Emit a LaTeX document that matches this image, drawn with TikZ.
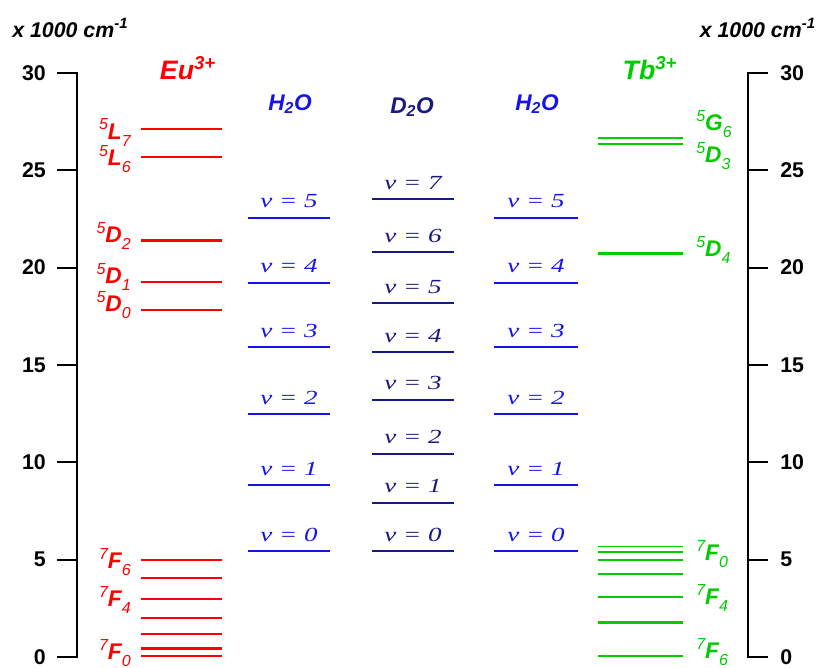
\documentclass[tikz,border=0pt]{standalone}
\usepackage{fontspec}
\setmainfont{Liberation Sans}
\setsansfont{Liberation Sans}
\newfontfamily\vibfont{Liberation Serif}
\usetikzlibrary{positioning}
\definecolor{eured}{RGB}{255,0,0}
\definecolor{tbgreen}{RGB}{0,204,0}
\definecolor{hblue}{RGB}{20,20,235}
\definecolor{dnavy}{RGB}{25,25,130}
\newcommand{\term}[3]{\raisebox{0.42em}{\fontsize{12}{12}\selectfont #1}\textbf{#2}\raisebox{-0.3em}{\fontsize{12}{12}\selectfont #3}}
\newcommand{\vlev}[1]{\scalebox{1.35}[1]{\vibfont\itshape ν = #1}}
\tikzset{
  axisline/.style={line width=1.6pt},
  tickline/.style={line width=1.5pt},
  axisnum/.style={font=\sffamily\fontsize{16}{16}\selectfont\bfseries, inner sep=0pt},
  unitlbl/.style={font=\sffamily\fontsize{16}{16}\selectfont\bfseries\itshape, inner sep=0pt},
  ionlbl/.style={font=\sffamily\fontsize{20}{20}\selectfont\bfseries\itshape},
  mollbl/.style={font=\sffamily\fontsize{17}{17}\selectfont\bfseries\itshape},
  termlbl/.style={font=\sffamily\fontsize{17}{17}\selectfont\itshape, inner sep=0pt},
  vlbl/.style={font=\fontsize{15}{15}\selectfont, anchor=base, inner sep=0pt}
}

\begin{document}
\begin{tikzpicture}[x=0.75pt, y=14.6pt, font=\sffamily]
\useasboundingbox (0,-0.565) rectangle (820,33.744);

% energy axes
\draw[axisline] (57,30) -- (77,30) -- (77,0) -- (57,0);
\draw[axisline] (768,30) -- (748,30) -- (748,0) -- (768,0);
\foreach \e in {5,10,...,25}{
  \draw[tickline] (57,\e) -- (77,\e);
  \draw[tickline] (748,\e) -- (768,\e);
}
\foreach \e in {0,5,...,30}{
  \node[axisnum, anchor=east] (lnum\e) at (46,\e) {\e};
  \node[axisnum, anchor=west] (rnum\e) at (780,\e) {\e};
}
\node[unitlbl, anchor=west] (unitl) at (12,32.31) {x 1000 cm\textsuperscript{-1}};
\node[unitlbl, anchor=east] (unitr) at (816,32.31) {x 1000 cm\textsuperscript{-1}};

% Eu levels
\node[ionlbl, eured] (eu) at (188,30.25) {Eu\textsuperscript{3+}};
\foreach \e/\w in {27.12/2.0, 25.68/2.0, 21.37/2.3, 19.26/1.6, 17.82/1.0,
  4.98/1.6, 4.07/1.6, 2.98/2.0, 2.0/2.0, 1.17/1.1, 0.43/2.0, 0.04/2.0}
  \draw[eured, line width=\w pt] (141,\e) -- (222,\e);
\foreach \e/\lab [count=\i] in {26.94/{\term{5}{L}{7}}, 25.58/{\term{5}{L}{6}},
  21.62/{\term{5}{D}{2}}, 19.52/{\term{5}{D}{1}}, 18.08/{\term{5}{D}{0}},
  4.88/{\term{7}{F}{6}}, 2.93/{\term{7}{F}{4}}, 0.21/{\term{7}{F}{0}}}
  \node[termlbl, eured, anchor=east] (eut\i) at (131,\e) {\lab};

% Tb levels
\node[ionlbl, tbgreen] (tb) at (650,30.25) {Tb\textsuperscript{3+}};
\foreach \e/\w in {26.64/1.8, 26.35/1.8, 20.73/1.8, 5.67/1.1, 5.39/2.0,
  4.98/1.1, 4.25/2.0, 3.08/2.0, 1.75/2.0, 0.05/2.0}
  \draw[tbgreen, line width=\w pt] (598,\e) -- (683,\e);
\foreach \e/\lab [count=\i] in {27.38/{\term{5}{G}{6}}, 25.73/{\term{5}{D}{3}},
  20.90/{\term{5}{D}{4}}, 5.29/{\term{7}{F}{0}}, 3.03/{\term{7}{F}{4}},
  0.26/{\term{7}{F}{6}}}
  \node[termlbl, tbgreen, anchor=west] (tbt\i) at (696,\e) {\lab};

% vibrational ladders
\node[mollbl, hblue] (h2oa) at (290,28.4) {H\textsubscript{2}O};
\node[mollbl, dnavy] (d2o) at (412,28.25) {D\textsubscript{2}O};
\node[mollbl, hblue] (h2ob) at (537,28.4) {H\textsubscript{2}O};
\foreach \e [count=\n from 0] in {5.44, 8.83, 12.48, 15.92, 19.21, 22.55}{
  \draw[hblue, line width=1.8pt] (248,\e) -- (330,\e);
  \node[vlbl, hblue] (ha\n) at (289,\e+0.51) {\vlev{\n}};
  \draw[hblue, line width=1.8pt] (494,\e) -- (578,\e);
  \node[vlbl, hblue] (hb\n) at (536,\e+0.51) {\vlev{\n}};
}
\foreach \e [count=\n from 0] in {5.44, 7.91, 10.43, 13.2, 15.66, 18.18, 20.8, 23.52}
{
  \draw[dnavy, line width=1.6pt] (372,\e) -- (454,\e);
  \node[vlbl, dnavy] (dv\n) at (413,\e+0.51) {\vlev{\n}};
}
\end{tikzpicture}
\end{document}
